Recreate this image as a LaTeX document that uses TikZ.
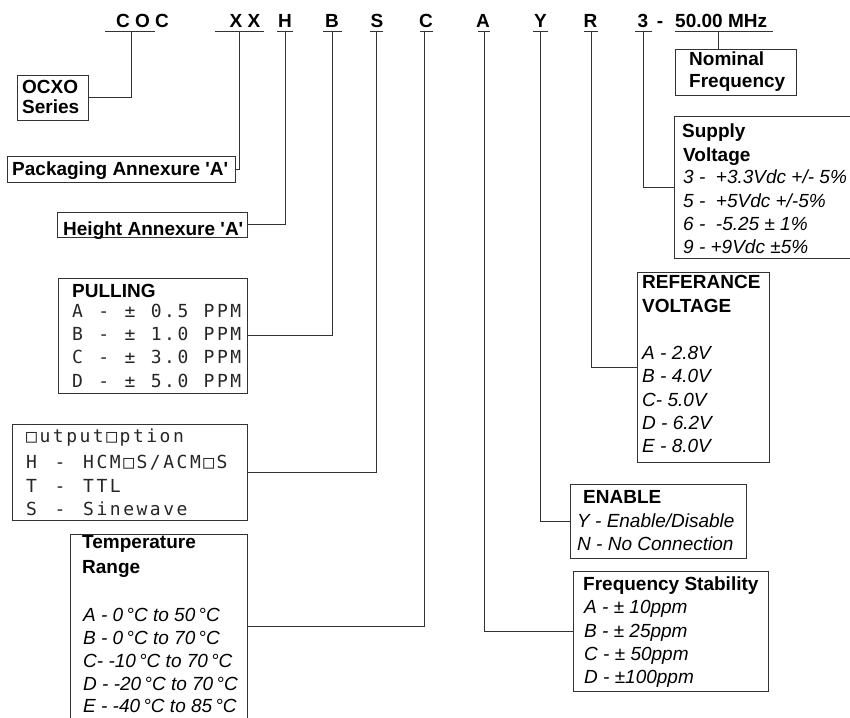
\documentclass[tikz,border=0pt]{standalone}
\usepackage{fontspec}
\setmainfont{Liberation Sans}
\newfontfamily\cadfont[LetterSpace=14,WordSpace=1.3]{DejaVu Sans Mono}
\newfontfamily\cadfontp[LetterSpace=14,WordSpace=1.15]{DejaVu Sans Mono}
\begin{document}
\begin{tikzpicture}[x=1pt,y=-1pt,
  conn/.style={draw=black!80, line width=0.9pt},
  box/.style={draw=black!80, line width=0.9pt, inner sep=0pt},
  code/.style={inner sep=0pt, anchor=base, font=\fontsize{19}{23}\selectfont\bfseries},
  bt/.style={inner sep=0pt, anchor=base west, font=\fontsize{19}{23}\selectfont\bfseries},
  it/.style={inner sep=0pt, anchor=base west, font=\fontsize{19}{23}\selectfont\itshape},
  cad/.style={inner sep=0pt, anchor=base west, text=black!85, font=\cadfont\fontsize{18}{22}\selectfont},
  cadp/.style={inner sep=0pt, anchor=base west, text=black!85, font=\cadfontp\fontsize{18}{22}\selectfont},
]
\useasboundingbox (0,0) rectangle (850,717);

% ---- top code letters
\node[code] (cCOC) at (142.5,27.5) {C O C};
\node[code] (cXX) at (245,27.5) {X X};
\node[code] (cH) at (285,27.5) {H};
\node[code] (cB) at (332,27.5) {B};
\node[code] (cS) at (377,27.5) {S};
\node[code] (cC) at (426,27.5) {C};
\node[code] (cA) at (483,27.5) {A};
\node[code] (cY) at (540.5,27.5) {Y};
\node[code] (cR) at (590.5,27.5) {R};
\node[code] (c3) at (643,27.5) {3};
\node[code] (cdash) at (660,27.5) {-};
\node[code, anchor=base west] (cMHz) at (675,27.5) {50.00 MHz};

% underlines
\draw[conn] (105,31) -- (155,31);
\draw[conn] (215,31) -- (264,31);
\draw[conn] (277,31) -- (293,31);
\draw[conn] (323,31) -- (342,31);
\draw[conn] (370,31) -- (383,31);
\draw[conn] (420,31) -- (433,31);
\draw[conn] (478,31) -- (490,31);
\draw[conn] (533,31) -- (548,31);
\draw[conn] (584,31) -- (598,31);
\draw[conn] (635,31) -- (652,31);
\draw[conn] (675,31) -- (773,31);

\coordinate (uCOC) at (131,31);
\coordinate (uXX) at (239,31);
\coordinate (uH) at (285,31);
\coordinate (uB) at (332,31);
\coordinate (uS) at (376,31);
\coordinate (uC) at (424,31);
\coordinate (uA) at (484,31);
\coordinate (uY) at (540,31);
\coordinate (uR) at (591,31);
\coordinate (u3) at (643,31);
\coordinate (uMHz) at (718,31);

% ---- boxes
\node[box, minimum width=71pt, minimum height=45pt] (ocxo) at (52.5,97.5) {};
\node[box, minimum width=228pt, minimum height=26pt] (pack) at (121,169) {};
\node[box, minimum width=190pt, minimum height=25pt] (height) at (152,224.5) {};
\node[box, minimum width=189pt, minimum height=115pt] (pull) at (152.5,335.5) {};
\node[box, minimum width=235pt, minimum height=96pt] (out) at (129.5,472) {};
\node[box, minimum width=177pt, minimum height=184pt] (temp) at (158.5,626) {};
\node[box, minimum width=121pt, minimum height=46pt] (nom) at (735.5,72) {};
\node[box, minimum width=196pt, minimum height=142pt] (supply) at (772,187) {};
\node[box, minimum width=132pt, minimum height=190pt] (ref) at (703,367) {};
\node[box, minimum width=176pt, minimum height=74pt] (enab) at (658,521) {};
\node[box, minimum width=195pt, minimum height=120pt] (stab) at (670.5,631) {};

% ---- connectors
\draw[conn] (uCOC) |- (ocxo.east);
\draw[conn] (uXX) |- (pack.east);
\draw[conn] (uH) |- (height.east);
\draw[conn] (uB) |- (pull.east);
\draw[conn] (uS) |- (out.east);
\draw[conn] (uC) |- (temp.east);
\draw[conn] (uA) |- (stab.west);
\draw[conn] (uY) |- (enab.west);
\draw[conn] (uR) |- (ref.west);
\draw[conn] (u3) |- (supply.west);
\draw[conn] (uMHz) -- (uMHz |- nom.north);

% ---- texts
\node[bt] (t_ocxo1) at (22,93) {OCXO};
\node[bt] (t_ocxo2) at (22,113) {Series};
\node[bt] (t_pack) at (12,175) {Packaging Annexure \textquotesingle A\textquotesingle};
\node[bt] (t_height) at (63,235) {Height Annexure \textquotesingle A\textquotesingle};

\node[bt] (t_pull) at (72,297) {PULLING};
\node[cadp] (t_pullA) at (72,317) {A - ± 0.5 PPM};
\node[cadp] (t_pullB) at (72,340) {B - ± 1.0 PPM};
\node[cadp] (t_pullC) at (72,363) {C - ± 3.0 PPM};
\node[cadp] (t_pullD) at (72,387) {D - ± 5.0 PPM};

\node[cad] (t_out0) at (26,442) {□utput□ption};
\node[cad] (t_out1) at (26,468) {H - HCM□S/ACM□S};
\node[cad] (t_out2) at (26,492) {T - TTL};
\node[cad] (t_out3) at (26,515) {S - Sinewave};

\node[bt] (t_temp1) at (82,548) {Temperature};
\node[bt] (t_temp2) at (82,573) {Range};
\node[it] (t_tempA) at (83,621) {A - 0\,°C to 50\,°C};
\node[it] (t_tempB) at (83,644) {B - 0\,°C to 70\,°C};
\node[it] (t_tempC) at (83,667) {C- -10\,°C to 70\,°C};
\node[it] (t_tempD) at (83,690) {D - -20\,°C to 70\,°C};
\node[it] (t_tempE) at (83,712) {E - -40\,°C to 85\,°C};

\node[bt] (t_nom1) at (689,66) {Nominal};
\node[bt] (t_nom2) at (689,87) {Frequency};

\node[bt] (t_sup1) at (682,137) {Supply};
\node[bt] (t_sup2) at (683,161) {Voltage};
\node[it] (t_sup3) at (683,183) {3 - \ +3.3Vdc +/- 5\%};
\node[it] (t_sup5) at (683,207) {5 - \ +5Vdc +/-5\%};
\node[it] (t_sup6) at (683,230) {6 - \ -5.25 ± 1\%};
\node[it] (t_sup9) at (683,253) {9 - +9Vdc ±5\%};

\node[bt] (t_ref1) at (642,288) {REFERANCE};
\node[bt] (t_ref2) at (642,312) {VOLTAGE};
\node[it] (t_refA) at (642,359) {A - 2.8V};
\node[it] (t_refB) at (642,382) {B - 4.0V};
\node[it] (t_refC) at (642,406) {C- 5.0V};
\node[it] (t_refD) at (642,429) {D - 6.2V};
\node[it] (t_refE) at (642,452) {E - 8.0V};

\node[bt] (t_en) at (583,503) {ENABLE};
\node[it] (t_enY) at (577,527) {Y - Enable/Disable};
\node[it] (t_enN) at (577,550) {N - No Connection};

\node[bt] (t_st) at (583,590) {Frequency Stability};
\node[it] (t_stA) at (584,613) {A - ± 10ppm};
\node[it] (t_stB) at (584,637) {B - ± 25ppm};
\node[it] (t_stC) at (584,660) {C - ± 50ppm};
\node[it] (t_stD) at (584,683) {D - ±100ppm};
\end{tikzpicture}
\end{document}
